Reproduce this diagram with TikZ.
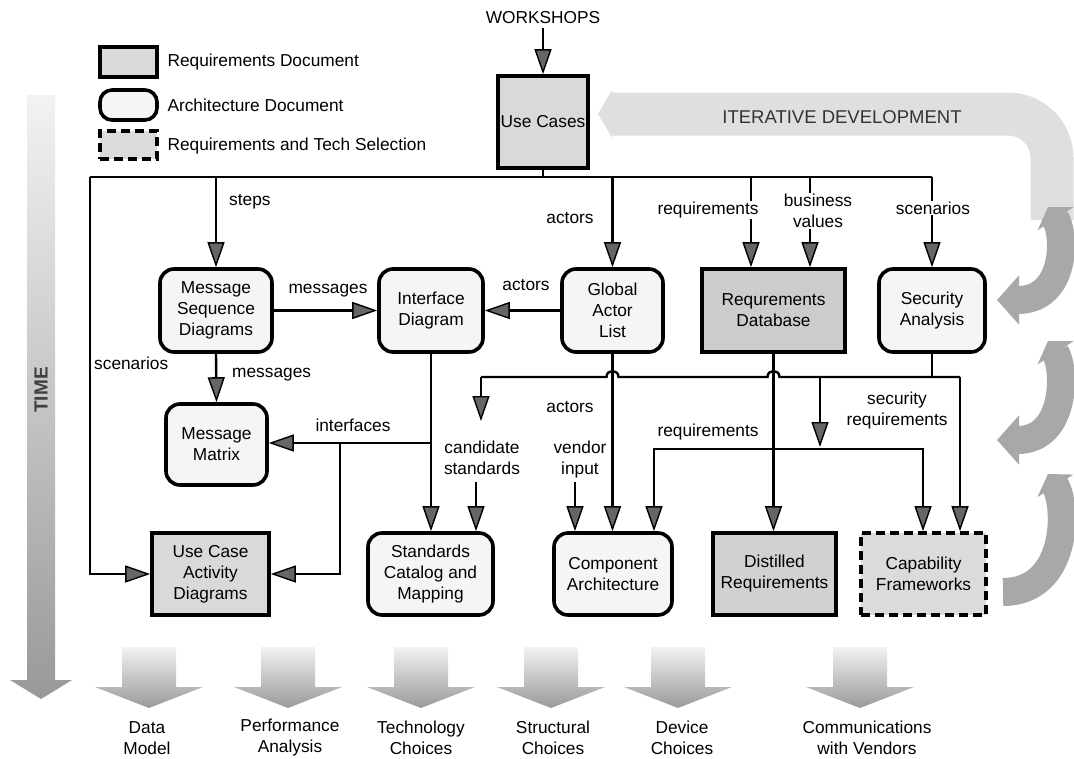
\documentclass[tikz,border=0pt]{standalone}
\usepackage{fontspec}
\setmainfont{Liberation Sans}
\usetikzlibrary{arrows.meta}
\begin{document}
\begin{tikzpicture}[x=1pt,y=-1pt,
  font=\fontsize{17.3}{21}\selectfont,
  conn/.style={line width=2.4pt},
  arr/.style={conn,-{Triangle[width=17pt,length=25pt,line width=1.4pt,fill=black!60]}},
  boxbase/.style={draw,line width=3.6pt,inner sep=2pt,align=center},
  rbox/.style={boxbase,rounded corners=14pt,fill=gray!8},
  sbox/.style={boxbase,fill=gray!30},
  dbox/.style={boxbase,dash pattern=on 9pt off 5pt,fill=gray!28},
  lbl/.style={inner sep=1pt,align=center},
  wlbl/.style={lbl,fill=white},
  bigarr/.style={top color=gray!10,bottom color=gray!80},
  darc/.style={line width=28pt,draw=gray!68},
]
\useasboundingbox (0,0) rectangle (1074,758);

% legend
\node[sbox,minimum width=57pt,minimum height=30pt] (lg1) at (128.5,62) {};
\node[anchor=west] (lg1t) at (164,62) {Requirements Document};
\node[rbox,rounded corners=12pt,minimum width=57pt,minimum height=30pt] (lg2) at (128.5,105) {};
\node[anchor=west] (lg2t) at (164,105) {Architecture Document};
\node[dbox,minimum width=57pt,minimum height=28pt] (lg3) at (128.5,145) {};
\node[anchor=west] (lg3t) at (164,146) {Requirements and Tech Selection};

% TIME arrow
\shade[bigarr] (27,95) -- (55,95) -- (55,680) -- (72,680) -- (41,699) -- (10,680) -- (27,680) -- cycle;
\node[rotate=90,font=\bfseries\fontsize{19}{21}\selectfont,text=black!75] (time) at (41,390) {TIME};

% iterative development band
\draw[line width=43pt,draw=gray!25,rounded corners=44pt,-{Triangle[width=47pt,length=14pt]}] (1052,220) |- (598,114);
\node[text=black!80,font=\fontsize{18.5}{21}\selectfont] (itd) at (842,117) {ITERATIVE DEVELOPMENT};

% dark curved arrows
\draw[darc,{Triangle[width=42pt,length=14pt]}-{Triangle[width=48pt,length=22pt]}] (1048,207) .. controls (1066,235) and (1066,300) .. (997,300);
\draw[darc,{Triangle[width=42pt,length=14pt]}-{Triangle[width=48pt,length=22pt]}] (1048,341) .. controls (1066,369) and (1066,440) .. (997,440);
\draw[darc,{Triangle[width=42pt,length=14pt]}-] (1048,474) .. controls (1068,506) and (1068,592) .. (1003,592);

% nodes
\node (ws) at (543,18) {WORKSHOPS};
\node[sbox,minimum width=90pt,minimum height=92pt] (uc) at (543,122) {Use Cases};
\node[rbox,minimum width=112pt,minimum height=83pt] (msd) at (216,310.5) {Message\\Sequence\\Diagrams};
\node[rbox,minimum width=104pt,minimum height=83pt] (id) at (431,310.5) {Interface\\Diagram};
\node[rbox,minimum width=101pt,minimum height=83pt] (gal) at (612.5,310.5) {Global\\Actor\\List};
\node[sbox,fill=gray!40,minimum width=143pt,minimum height=83pt] (rdb) at (773.5,310.5) {Requrements\\Database};
\node[rbox,minimum width=106pt,minimum height=83pt] (sa) at (932,310.5) {Security\\Analysis};
\node[rbox,minimum width=101pt,minimum height=81pt] (mm) at (216.5,444.5) {Message\\Matrix};
\node[sbox,minimum width=117pt,minimum height=82pt] (ucad) at (210.5,574) {Use Case\\Activity\\Diagrams};
\node[rbox,minimum width=125pt,minimum height=82pt] (scm) at (430.5,574) {Standards\\Catalog and\\Mapping};
\node[rbox,minimum width=118pt,minimum height=82pt] (ca) at (613,574) {Component\\Architecture};
\node[sbox,fill=gray!36,minimum width=123pt,minimum height=82pt] (dr) at (774.5,574) {Distilled\\Requirements};
\node[dbox,minimum width=125pt,minimum height=82pt] (cf) at (923.5,574) {Capability\\Frameworks};

% top bus
\coordinate (busL) at (90,177);
\coordinate (busR) at (932,177);
\coordinate (r1) at (751,177);
\coordinate (r2) at (810,177);
\draw[arr] (ws.south -| uc.north) -- (uc.north);
\draw[conn] (uc.south) -- (uc.south |- busL);
\draw[conn] (busL) -- (busR);
\draw[arr] (busL) |- (ucad.west);
\draw[arr] (msd.north |- busL) -- (msd.north);
\draw[arr] (gal.north |- busL) -- (gal.north);
\draw[arr] (r1) -- (r1 |- rdb.north);
\draw[arr] (r2) -- (r2 |- rdb.north);
\draw[arr] (busR) -- (sa.north);

% row 2 links
\draw[arr] (msd.east) -- (id.west);
\draw[arr] (gal.west) -- (id.east);
\draw[arr] (msd.south) -- (mm.north);
\draw[arr] (id.south) -- (id.south |- scm.north);
\coordinate (ifj) at (431,443);
\coordinate (ifb) at (340,443);
\draw[arr] (ifj) -- (mm.east |- ifj);
\draw[arr] (ifb) |- (ucad.east);

% security bus
\coordinate (sj) at (932,377);
\coordinate (hL) at (481,377);
\coordinate (hR) at (960,377);
\draw[conn] (sa.south) -- (sj);
\draw[conn] (hL) -- (606.5,377) .. controls (606.5,369) and (618.5,369) .. (618.5,377) -- (767.5,377) .. controls (767.5,369) and (779.5,369) .. (779.5,377) -- (hR);
\coordinate (cs1) at (481,421);
\coordinate (cs2) at (476,482);
\draw[arr] (hL) -- (cs1);
\draw[arr] (cs2) -- (cs2 |- scm.north);
\draw[arr] (hR) -- (hR |- cf.north);
\draw[arr] (gal.south) -- (gal.south |- ca.north);
\coordinate (vi1) at (575,482);
\draw[arr] (vi1) -- (vi1 |- ca.north);
\draw[arr] (rdb.south) -- (rdb.south |- dr.north);
\coordinate (sr) at (820,377);
\coordinate (srE) at (820,447);
\draw[arr] (sr) -- (srE);
\coordinate (rqM) at (820,449);
\coordinate (rqL) at (654,449);
\coordinate (rqR) at (923,449);
\draw[arr] (rqM) -| (rqL |- ca.north);
\draw[arr] (rqM) -| (rqR |- cf.north);

% labels
\node[lbl,anchor=west] (l1) at (228,202) {steps};
\node[lbl] (l2) at (570,218) {actors};
\node[wlbl] (l3) at (708,210) {requirements};
\node[wlbl] (l4) at (818,211) {business\\values};
\node[wlbl] (l5) at (933,208) {scenarios};
\node[lbl,anchor=west] (l6) at (93,363) {scenarios};
\node[lbl] (l7) at (328,291) {messages};
\node[lbl] (l8) at (526,285) {actors};
\node[lbl,anchor=west] (l9) at (231,375) {messages};
\node[lbl] (l10) at (353,425) {interfaces};
\node[lbl] (l11) at (482,458) {candidate\\standards};
\node[lbl] (l12) at (570,407) {actors};
\node[lbl] (l13) at (580,460) {vendor\\input};
\node[lbl] (l14) at (708,432) {requirements};
\node[lbl] (l15) at (897,411) {security\\requirements};

% bottom arrows
\foreach \cx/\tx/\nm/\txt in {149/147/b1/{Data\\Model},288/290/b2/{Performance\\Analysis},421/421/b3/{Technology\\Choices},551/553/b4/{Structural\\Choices},678/682/b5/{Device\\Choices},860/867/b6/{Communications\\with Vendors}}{
  \shade[bigarr] (\cx-27,647) -- (\cx+27,647) -- (\cx+27,687) -- (\cx+54,687) -- (\cx,708) -- (\cx-54,687) -- (\cx-27,687) -- cycle;
  \node[lbl] (\nm) at (\tx,738) {\txt};
}
\end{tikzpicture}
\end{document}
